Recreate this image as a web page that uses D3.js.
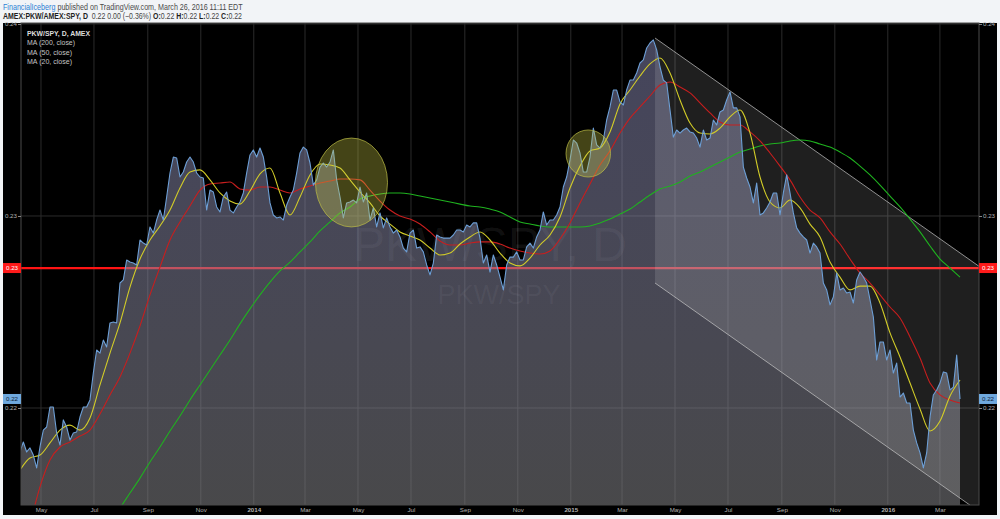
<!DOCTYPE html>
<html><head><meta charset="utf-8">
<script src="https://cdn.jsdelivr.net/npm/d3@7"></script>
<style>body{margin:0;background:#f2f4f7;overflow:hidden}svg{display:block}</style>
</head><body><svg id="c" width="1000" height="519"></svg>
<script>
// ---------------- data ----------------
const sampleStartUTC = Date.UTC(2013, 3, 6, 20);   // first price sample
const sampleStepDays = 3.838;                        // spacing of price samples
const priceValues = [
.21771,.21823,.21771,.21792,.21755,.21688,.21797,.21885,.21901,.22005,
.22005,.21870,.21807,.21938,.21901,.21833,.21870,.21875,.21953,.22005,
.22005,.22042,.22182,.22302,.22286,.22354,.22318,.22443,.22448,.22443,
.22651,.22667,.22771,.22760,.22755,.22745,.22875,.22859,.22849,.22943,
.22911,.22979,.23031,.22979,.23099,.23224,.23307,.23302,.23203,.23229,
.23281,
.23307,.23281,.23224,.23203,.23198,.23031,.23135,.23125,.23047,.23021,
.23099,.23125,.23031,.23016,.23047,.23073,.23120,.23224,.23318,.23344,
.23307,.23354,.23307,.23203,.23068,.23005,.22990,.22995,.22979,.23057,
.23099,.23135,.23224,.23328,.23359,.23344,.23276,.23161,.23188,.23255,
.23276,.23255,.23281,.23344,.23188,.23099,.22990,.23068,.23073,
.23083,.23068,.23151,.23073,.23120,.22979,.23042,.22943,.23016,.22938,
.22990,.22943,.22911,.22927,.22891,.22833,.22813,.22911,.22927,.22833,
.22839,.22813,.22745,.22693,.22755,.22901,.22891,.22885,.22885,.22885,
.22901,.22927,.22927,.22917,.22953,.22943,.22964,.22964,.22885,.22755,
.22797,.22708,.22797,.22745,.22682,.22615,.22745,
.22786,.22786,.22813,.22771,.22771,.22839,.22859,.22833,.22891,.22927,
.23021,.22953,.22979,.22979,.23005,.23047,.23151,.23203,.23292,.23396,
.23380,.23328,.23229,.23229,.23307,.23458,.23370,.23354,.23396,.23500,
.23568,.23656,.23656,.23594,.23578,.23656,.23708,.23708,.23745,.23797,
.23813,.23875,.23901,.23917,.23865,.23776,.23708,
.23693,.23552,.23411,.23448,.23432,.23448,.23458,.23438,.23432,.23406,
.23359,.23448,.23396,.23406,.23500,.23474,.23542,.23552,.23604,.23646,
.23563,.23563,.23516,.23255,.23198,.23151,.23068,.23172,.23005,.23016,
.23042,.23073,.23120,.23120,.23005,.23120,.23214,.23120,.23016,.22938,
.22911,.22891,.22875,.22807,.22859,.22839,.22807,.22651,
.22615,.22537,.22578,.22703,.22615,.22625,.22599,.22604,.22547,.22667,
.22708,.22682,.22651,.22563,.22474,.22250,.22344,.22344,.22250,.22302,
.22182,.22234,.22057,.22078,.22026,.22026,.21885,.21818,.21766,.21688,
.21766,.21953,.22068,.22094,.22130,.22188,.22182,.22094,.22109,.22276,
.22047];

// moving averages, read every 3rd sample
const maSampleEvery = 3;
const ma20Offset = 0, ma50Offset = 3, ma200Offset = 30;   // in samples
const ma20Values = [
.21677,.21740,.21755,.21818,.21885,.21911,.21885,.21948,.22120,.22286,
.22443,.22630,.22776,.22875,.22948,.23031,.23146,.23229,.23240,.23188,
.23120,.23078,.23062,.23130,.23219,.23250,.23120,.23005,.23099,.23214,
.23271,.23266,.23250,.23188,.23125,.23068,.23000,.22958,.22917,.22896,
.22875,.22833,.22797,.22807,.22854,.22891,.22917,.22875,.22807,.22755,
.22740,.22781,.22849,.22901,.22995,.23146,.23260,.23339,.23354,.23438,
.23583,.23656,.23729,.23792,.23823,.23745,.23604,.23484,.23432,.23427,
.23458,.23516,.23552,.23432,.23203,.23073,.23042,.23083,.23042,.22958,
.22891,.22760,.22682,.22615,.22635,.22635,.22547,.22391,.22266,.22130,
.21995,.21880,.21932,.22063,.22146];
const ma50Values = [
.21391,.21589,.21729,.21797,.21823,.21854,.21885,.21969,.22068,.22162,
.22286,.22427,.22589,.22734,.22875,.22969,.23052,.23135,.23167,.23172,
.23177,.23141,.23135,.23151,.23151,.23135,.23120,.23141,.23156,.23172,
.23182,.23193,.23193,.23188,.23135,.23078,.23031,.23000,.22984,.22958,
.22917,.22870,.22849,.22849,.22859,.22865,.22865,.22854,.22833,.22818,
.22807,.22802,.22818,.22880,.22964,.23068,.23167,.23266,.23339,.23432,
.23510,.23568,.23625,.23682,.23698,.23672,.23641,.23589,.23537,.23490,
.23474,.23474,.23438,.23391,.23328,.23260,.23188,.23099,.23031,.22990,
.22917,.22854,.22776,.22703,.22651,.22589,.22526,.22469,.22370,.22260,
.22130,.22068,.22042,.22026];
const ma200Values = [
.21479,.21557,.21635,.21719,.21797,.21880,.21958,.22042,.22120,.22198,
.22276,.22354,.22438,.22516,.22589,.22656,.22714,.22760,.22813,.22865,
.22922,.22969,.23016,.23047,.23089,.23104,.23115,.23120,.23120,.23115,
.23104,.23094,.23083,.23073,.23062,.23052,.23047,.23036,.23021,.22995,
.22969,.22958,.22948,.22943,.22943,.22943,.22943,.22948,.22964,.22984,
.23010,.23036,.23073,.23109,.23141,.23156,.23177,.23208,.23229,.23255,
.23281,.23307,.23333,.23349,.23365,.23375,.23380,.23391,.23396,.23391,
.23375,.23359,.23333,.23302,.23260,.23214,.23161,.23104,.23047,.22984,
.22917,.22844,.22776,.22729,.22682];

const monthTickDates = ["2013-05-01","2013-07-01","2013-09-01","2013-11-01","2014-01-01","2014-03-01",
  "2014-05-01","2014-07-01","2014-09-01","2014-11-01","2015-01-01","2015-03-01","2015-05-01",
  "2015-07-01","2015-09-01","2015-11-01","2016-01-01","2016-03-01"];
const monthTickLabels = ["May","Jul","Sep","Nov","2014","Mar","May","Jul","Sep","Nov","2015","Mar",
  "May","Jul","Sep","Nov","2016","Mar"];
const yTickValues = [0.24, 0.23, 0.22];
const yTickLabels = ["0.24", "0.23", "0.22"];
const xDomain = ["2013-04-08", "2016-04-15"];
const yDomain = [0.214948, 0.240052];

const horizontalLevel = 0.22729;     // red horizontal line
const lastValue = 0.22047;           // last close
const channelDates = ["2015-04-08", "2016-04-15"];
const channelTop = [0.23927, 0.22738];
const channelBottom = [0.22651, 0.21461];
const circleDates = [["2014-03-13","2014-06-04"], ["2014-12-26T12:00","2015-02-15T18:00"]];
const circleValues = [[0.23406, 0.22943], [0.23448, 0.23203]];

const headerLine1 = [["FinancialIceberg", "#2b7fd4", false], ["\u00a0published on TradingView.com, March 26, 2016 11:11 EDT", "#4a4a4a", false]];
const headerLine2 = [["AMEX:PKW/AMEX:SPY, D", true], ["\u00a0\u00a00.22 0.00 (\u22120.36%)\u00a0", false], ["O:", true], ["0.22\u00a0", false],
  ["H:", true], ["0.22\u00a0", false], ["L:", true], ["0.22\u00a0", false], ["C:", true], ["0.22", false]];
const legendLines = ["PKW/SPY, D, AMEX", "MA (200, close)", "MA (50, close)", "MA (20, close)"];

// ---------------- build ----------------
const DAY = 864e5;
const sampleDates = priceValues.map((v, i) => new Date(sampleStartUTC + i * sampleStepDays * DAY));
const price = priceValues.map((v, i) => ({date: sampleDates[i], value: v}));
const maSeries = (vals, off) => vals.map((v, j) => ({date: sampleDates[off + j * maSampleEvery], value: v}));
const ma20 = maSeries(ma20Values, ma20Offset);
const ma50 = maSeries(ma50Values, ma50Offset);
const ma200 = maSeries(ma200Values, ma200Offset);
const P = d => new Date(d + (d.length === 10 ? "T00:00:00Z" : "Z"));

const svg = d3.select("#c");
const plot = {l: 21, r: 979, t: 23, b: 505};
const x = d3.scaleUtc().domain(xDomain.map(P)).range([plot.l, plot.r]);
const y = d3.scaleLinear().domain(yDomain).range([plot.b, plot.t]);
const FONT = "'Liberation Sans', Arial, sans-serif";

const defs = svg.append("defs");
defs.append("clipPath").attr("id", "clip").append("rect")
  .attr("x", plot.l).attr("y", plot.t).attr("width", plot.r - plot.l).attr("height", plot.b - plot.t);
const grad = defs.append("linearGradient").attr("id", "ag").attr("gradientUnits", "userSpaceOnUse")
  .attr("x1", 0).attr("x2", 0).attr("y1", plot.t).attr("y2", plot.b);
grad.append("stop").attr("offset", 0).attr("stop-color", "rgb(150,150,200)").attr("stop-opacity", 0.46);
grad.append("stop").attr("offset", 1).attr("stop-color", "rgb(125,125,128)").attr("stop-opacity", 0.58);

// page & chart backgrounds
svg.append("rect").attr("width", 1000).attr("height", 519).attr("fill", "#f2f4f7");
svg.append("rect").attr("x", 3).attr("y", 23).attr("width", 994).attr("height", 492).attr("fill", "#000");

const g = svg.append("g").attr("clip-path", "url(#clip)");

// grid
g.selectAll(".vg").data(monthTickDates).join("line")
  .attr("x1", d => x(P(d))).attr("x2", d => x(P(d))).attr("y1", plot.t).attr("y2", plot.b)
  .attr("stroke", "#2b2b2b").attr("stroke-width", 1);
g.selectAll(".hg").data(yTickValues).join("line")
  .attr("x1", plot.l).attr("x2", plot.r).attr("y1", d => y(d)).attr("y2", d => y(d))
  .attr("stroke", "#2b2b2b").attr("stroke-width", 1);

// watermark
g.append("text").attr("x", 490).attr("y", 261).attr("text-anchor", "middle")
  .attr("font-family", FONT).attr("font-size", 48).attr("fill", "rgba(255,255,255,0.07)").text("PKW/SPY, D");
g.append("text").attr("x", 499).attr("y", 304).attr("text-anchor", "middle")
  .attr("font-family", FONT).attr("font-size", 27).attr("fill", "rgba(255,255,255,0.07)").text("PKW/SPY");

// red horizontal line
g.append("line").attr("x1", plot.l).attr("x2", plot.r)
  .attr("y1", y(horizontalLevel)).attr("y2", y(horizontalLevel))
  .attr("stroke", "#ff1414").attr("stroke-width", 2.3);

// area
g.append("path").datum(price)
  .attr("d", d3.area().x(d => x(d.date)).y0(y(yDomain[0])).y1(d => y(d.value)))
  .attr("fill", "url(#ag)");

// channel
const cd = channelDates.map(P);
const chanPoly = [[x(cd[0]), y(channelTop[0])], [x(cd[1]), y(channelTop[1])],
                  [x(cd[1]), y(channelBottom[1])], [x(cd[0]), y(channelBottom[0])]];
g.append("path").attr("d", d3.line()(chanPoly) + "Z").attr("fill", "rgba(255,255,255,0.12)");
g.append("line").attr("x1", x(cd[0])).attr("y1", y(channelTop[0])).attr("x2", x(cd[1])).attr("y2", y(channelTop[1]))
  .attr("stroke", "rgba(200,200,200,0.7)").attr("stroke-width", 1);
g.append("line").attr("x1", x(cd[0])).attr("y1", y(channelBottom[0])).attr("x2", x(cd[1])).attr("y2", y(channelBottom[1]))
  .attr("stroke", "rgba(200,200,200,0.7)").attr("stroke-width", 1);

// MAs
const ln = d3.line().x(d => x(d.date)).y(d => y(d.value)).curve(d3.curveMonotoneX);
g.append("path").datum(ma200).attr("d", ln).attr("fill", "none").attr("stroke", "#1fb21f").attr("stroke-width", 1.1);
g.append("path").datum(ma50).attr("d", ln).attr("fill", "none").attr("stroke", "#c81e1e").attr("stroke-width", 1.1);
g.append("path").datum(ma20).attr("d", ln).attr("fill", "none").attr("stroke", "#d2cc28").attr("stroke-width", 1.1);

// price
g.append("path").datum(price)
  .attr("d", d3.line().x(d => x(d.date)).y(d => y(d.value)))
  .attr("fill", "none").attr("stroke", "#6d9fd6").attr("stroke-width", 1.1).attr("stroke-linejoin", "round");

// circles
circleDates.forEach((cdts, i) => {
  const x0 = x(P(cdts[0])), x1 = x(P(cdts[1]));
  const y0 = y(circleValues[i][0]), y1 = y(circleValues[i][1]);
  g.append("ellipse").attr("cx", (x0 + x1) / 2).attr("cy", (y0 + y1) / 2)
    .attr("rx", (x1 - x0) / 2).attr("ry", (y1 - y0) / 2)
    .attr("fill", "rgba(205,205,70,0.33)").attr("stroke", "rgba(190,190,70,0.7)").attr("stroke-width", 1);
});

// frame
svg.append("rect").attr("x", plot.l).attr("y", plot.t).attr("width", plot.r - plot.l).attr("height", plot.b - plot.t)
  .attr("fill", "none").attr("stroke", "#4a4a4a").attr("stroke-width", 1);

// axes
const styleAxis = sel => {
  sel.select(".domain").remove();
  sel.selectAll(".tick line").attr("stroke", "#888");
  sel.selectAll(".tick text").attr("fill", "#b0b0b0").attr("font-family", FONT).attr("font-size", 6.2);
};
svg.append("g").attr("transform", `translate(0,${plot.b})`)
  .call(d3.axisBottom(x).tickValues(monthTickDates.map(P)).tickFormat((d, i) => monthTickLabels[i]).tickSize(0).tickPadding(3))
  .call(styleAxis)
  .call(s => s.selectAll(".tick text").attr("font-weight", (d, i) => /^\d/.test(monthTickLabels[i]) ? "bold" : "normal"));
svg.append("g").attr("transform", `translate(${plot.l},0)`)
  .call(d3.axisLeft(y).tickValues(yTickValues).tickFormat((d, i) => yTickLabels[i]).tickSize(3).tickPadding(1))
  .call(styleAxis);
svg.append("g").attr("transform", `translate(${plot.r},0)`)
  .call(d3.axisRight(y).tickValues(yTickValues).tickFormat((d, i) => yTickLabels[i]).tickSize(3).tickPadding(1))
  .call(styleAxis);

// price labels on axes
const tagLabel = (val, bg, fg) => {
  const yy = y(val);
  [[3, 18], [979, 18]].forEach(([lx, w]) => {
    svg.append("rect").attr("x", lx).attr("y", yy - 5).attr("width", w).attr("height", 10).attr("fill", bg);
    svg.append("text").attr("x", lx + w / 2).attr("y", yy).attr("dy", "0.35em").attr("text-anchor", "middle")
      .attr("font-family", FONT).attr("font-size", 6.2).attr("fill", fg).text(d3.format(".2f")(val));
  });
};
tagLabel(horizontalLevel, "#ff1a1a", "#ffffff");
tagLabel(lastValue, "#6fa9de", "#10233a");

// legend
const lg = svg.append("g").attr("font-family", FONT);
const legendWidths = [63, 48, 45, 45];
legendLines.forEach((t, i) => {
  lg.append("text").attr("x", 27).attr("y", 36 + i * 9.4).attr("font-size", 8)
    .attr("font-weight", i === 0 ? "bold" : "normal").attr("fill", i === 0 ? "#dcdcdc" : "#c4c4c4")
    .attr("textLength", legendWidths[i]).attr("lengthAdjust", "spacingAndGlyphs").text(t);
});

// header: segments laid out one after another, then squeezed to the reference width
const headerRow = (segments, baseline, width) => {
  const row = svg.append("g");
  let cx = 0;
  segments.forEach(s => {
    const t = row.append("text").attr("x", cx).attr("y", 0).attr("font-family", FONT).attr("font-size", 8.8)
      .attr("font-weight", s.bold ? "bold" : "normal").attr("fill", s.color).text(s.text);
    cx += t.node().getComputedTextLength();
  });
  row.attr("transform", `translate(3,${baseline}) scale(${width / cx},1)`);
};
headerRow(headerLine1.map(([t, c, b]) => ({text: t, color: c, bold: b})), 9.6, 240);
headerRow(headerLine2.map(([t, b]) => ({text: t, color: b ? "#1e1e1e" : "#444", bold: b})), 18.6, 239);
</script></body></html>
